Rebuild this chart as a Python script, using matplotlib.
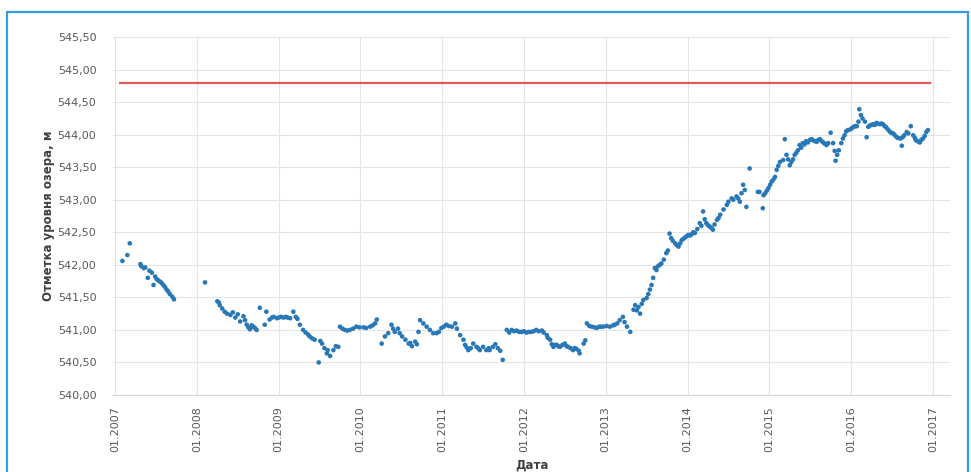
import numpy as np
import matplotlib
matplotlib.use('Agg')
import matplotlib.pyplot as plt
from matplotlib.patches import Rectangle
from matplotlib.ticker import FuncFormatter

# lake level observations: decimal year, elevation (m)
years = [
    2007.09, 2007.15, 2007.18, 2007.31, 2007.32, 2007.35, 2007.37, 2007.40, 2007.42, 2007.45,
    2007.47, 2007.49, 2007.51, 2007.53, 2007.55, 2007.57, 2007.59, 2007.61, 2007.63, 2007.65,
    2007.67, 2007.70, 2007.72,
    2008.10, 2008.25, 2008.27, 2008.28, 2008.31, 2008.34, 2008.37, 2008.41, 2008.44, 2008.47,
    2008.50, 2008.53, 2008.57, 2008.59, 2008.61, 2008.63, 2008.65, 2008.67, 2008.69, 2008.71,
    2008.73, 2008.77, 2008.83, 2008.85, 2008.89, 2008.92, 2008.94, 2008.98, 2009.00, 2009.03,
    2009.06, 2009.09, 2009.11, 2009.14, 2009.18, 2009.21, 2009.23, 2009.26, 2009.30, 2009.33,
    2009.36, 2009.38, 2009.41, 2009.44, 2009.49, 2009.51, 2009.53, 2009.56, 2009.59, 2009.60,
    2009.63, 2009.67, 2009.70, 2009.73,
    2009.75, 2009.78, 2009.81, 2009.84, 2009.87, 2009.91, 2009.95, 2009.99, 2010.04, 2010.07,
    2010.12, 2010.15, 2010.18, 2010.20, 2010.26, 2010.30, 2010.34, 2010.38, 2010.40, 2010.42,
    2010.46, 2010.48, 2010.51, 2010.55, 2010.59, 2010.61, 2010.63, 2010.67, 2010.69, 2010.71,
    2010.73, 2010.77, 2010.81, 2010.85, 2010.89, 2010.93, 2010.96, 2010.99, 2011.02, 2011.05,
    2011.08, 2011.12, 2011.16, 2011.18, 2011.22, 2011.26, 2011.28, 2011.30, 2011.32, 2011.35,
    2011.38, 2011.42, 2011.44, 2011.46, 2011.50, 2011.54, 2011.57, 2011.58, 2011.62, 2011.65,
    2011.68, 2011.71, 2011.74,
    2011.79, 2011.82, 2011.85, 2011.88, 2011.91, 2011.94, 2011.97, 2012.00, 2012.03, 2012.06,
    2012.09, 2012.12, 2012.15, 2012.18, 2012.22, 2012.24, 2012.28, 2012.29, 2012.32, 2012.34,
    2012.36, 2012.38, 2012.40, 2012.42, 2012.44, 2012.47, 2012.50, 2012.52, 2012.54, 2012.57,
    2012.60, 2012.62, 2012.64, 2012.67, 2012.68, 2012.73, 2012.75,
    2012.77, 2012.80, 2012.83, 2012.86, 2012.89, 2012.92, 2012.94, 2012.97, 2013.01, 2013.05,
    2013.09, 2013.11, 2013.14, 2013.17, 2013.21, 2013.23, 2013.26, 2013.30, 2013.34, 2013.36,
    2013.38, 2013.40, 2013.42, 2013.44, 2013.46, 2013.50, 2013.52, 2013.54, 2013.56, 2013.58,
    2013.60, 2013.62, 2013.64, 2013.66, 2013.68, 2013.71, 2013.74, 2013.76, 2013.78, 2013.80,
    2013.82, 2013.85, 2013.87, 2013.89, 2013.91, 2013.93, 2013.95, 2013.97, 2013.99, 2014.01,
    2014.03, 2014.05, 2014.07, 2014.09, 2014.12, 2014.15, 2014.17, 2014.19, 2014.21, 2014.23,
    2014.25, 2014.27, 2014.29, 2014.31, 2014.33, 2014.36, 2014.38, 2014.40, 2014.44, 2014.48,
    2014.50, 2014.54, 2014.56, 2014.60, 2014.62, 2014.64, 2014.66, 2014.68, 2014.70, 2014.72,
    2014.76, 2014.86, 2014.88, 2014.92, 2014.93, 2014.95, 2014.97, 2014.99, 2015.01, 2015.03,
    2015.05, 2015.07, 2015.09, 2015.11, 2015.13, 2015.17, 2015.19, 2015.21, 2015.23, 2015.25,
    2015.27, 2015.29, 2015.31, 2015.33, 2015.35, 2015.37, 2015.39, 2015.41, 2015.43, 2015.45,
    2015.47, 2015.50, 2015.52, 2015.54, 2015.56, 2015.58, 2015.60, 2015.62, 2015.64, 2015.66,
    2015.68, 2015.70, 2015.72, 2015.75, 2015.78, 2015.80, 2015.81, 2015.83, 2015.85, 2015.88,
    2015.90, 2015.92, 2015.94, 2015.96, 2015.99, 2016.01, 2016.03, 2016.05, 2016.07, 2016.09,
    2016.10, 2016.12, 2016.14, 2016.17, 2016.19, 2016.21, 2016.23, 2016.25, 2016.27, 2016.29,
    2016.31, 2016.33, 2016.35, 2016.37, 2016.39, 2016.41, 2016.43, 2016.45, 2016.47, 2016.49,
    2016.51, 2016.53, 2016.55, 2016.57, 2016.60, 2016.62, 2016.63, 2016.65, 2016.68, 2016.70,
    2016.73, 2016.76, 2016.78, 2016.79, 2016.81, 2016.84, 2016.86, 2016.88, 2016.90, 2016.92,
    2016.94,
]
levels = [
    542.06, 542.15, 542.33, 542.01, 541.98, 541.95, 541.96, 541.80, 541.91, 541.88,
    541.69, 541.82, 541.78, 541.76, 541.74, 541.72, 541.69, 541.66, 541.62, 541.59,
    541.55, 541.51, 541.47,
    541.73, 541.44, 541.42, 541.38, 541.33, 541.28, 541.25, 541.23, 541.27, 541.19,
    541.24, 541.13, 541.21, 541.15, 541.08, 541.04, 541.01, 541.07, 541.05, 541.03,
    541.00, 541.34, 541.08, 541.28, 541.16, 541.19, 541.20, 541.18, 541.19, 541.20,
    541.19, 541.20, 541.19, 541.18, 541.28, 541.20, 541.17, 541.08, 541.00, 540.96,
    540.93, 540.90, 540.87, 540.85, 540.50, 540.83, 540.79, 540.72, 540.64, 540.69,
    540.60, 540.69, 540.75, 540.74,
    541.05, 541.02, 541.00, 540.99, 541.00, 541.02, 541.05, 541.04, 541.04, 541.03,
    541.05, 541.07, 541.10, 541.16, 540.79, 540.90, 540.95, 541.08, 541.02, 540.97,
    541.02, 540.95, 540.90, 540.85, 540.79, 540.80, 540.75, 540.82, 540.78, 540.97,
    541.15, 541.10, 541.05, 541.00, 540.95, 540.95, 540.97, 541.03, 541.05, 541.08,
    541.06, 541.05, 541.10, 541.02, 540.92, 540.85, 540.77, 540.73, 540.69, 540.72,
    540.79, 540.74, 540.72, 540.69, 540.74, 540.69, 540.72, 540.69, 540.74, 540.78,
    540.72, 540.68, 540.54,
    541.00, 540.96, 541.00, 540.98, 540.99, 540.97, 540.97, 540.98, 540.96, 540.97,
    540.97, 540.98, 541.00, 540.98, 540.99, 540.96, 540.92, 540.88, 540.85, 540.78,
    540.74, 540.77, 540.77, 540.75, 540.74, 540.77, 540.79, 540.75, 540.74, 540.72,
    540.69, 540.72, 540.71, 540.68, 540.64, 540.79, 540.84,
    541.10, 541.06, 541.05, 541.04, 541.03, 541.05, 541.05, 541.05, 541.06, 541.05,
    541.07, 541.08, 541.10, 541.15, 541.20, 541.12, 541.05, 540.97, 541.31, 541.38,
    541.30, 541.35, 541.25, 541.40, 541.46, 541.49, 541.55, 541.62, 541.69, 541.80,
    541.95, 541.92, 541.98, 542.00, 542.02, 542.08, 542.18, 542.22, 542.48, 542.41,
    542.37, 542.33, 542.30, 542.28, 542.33, 542.38, 542.40, 542.42, 542.44, 542.46,
    542.45, 542.47, 542.50, 542.49, 542.55, 542.64, 542.60, 542.82, 542.70, 542.64,
    542.61, 542.59, 542.57, 542.54, 542.62, 542.69, 542.72, 542.77, 542.85, 542.92,
    542.97, 543.02, 543.00, 543.05, 543.02, 542.97, 543.10, 543.23, 543.15, 542.89,
    543.48, 543.12, 543.12, 542.87, 543.07, 543.10, 543.14, 543.18, 543.23, 543.28,
    543.31, 543.35, 543.46, 543.52, 543.58, 543.61, 543.93, 543.69, 543.62, 543.53,
    543.58, 543.62, 543.69, 543.72, 543.76, 543.84, 543.80, 543.87, 543.85, 543.90,
    543.88, 543.92, 543.93, 543.91, 543.90, 543.89, 543.92, 543.93, 543.90, 543.88,
    543.86, 543.84, 543.87, 544.03, 543.87, 543.75, 543.60, 543.69, 543.76, 543.87,
    543.94, 543.99, 544.05, 544.07, 544.08, 544.10, 544.12, 544.13, 544.13, 544.20,
    544.39, 544.30, 544.25, 544.20, 543.96, 544.12, 544.14, 544.15, 544.16, 544.15,
    544.18, 544.17, 544.16, 544.17, 544.16, 544.13, 544.11, 544.08, 544.05, 544.03,
    544.02, 544.00, 543.97, 543.95, 543.94, 543.83, 543.96, 543.99, 544.04, 544.02,
    544.13, 543.99, 543.95, 543.92, 543.90, 543.88, 543.92, 543.94, 543.98, 544.04,
    544.07,
]

# critical level line
crit_level = 544.80
crit_start, crit_end = 2007.06, 2016.97

tick_years = list(range(2007, 2018))
tick_labels = ['01.%d' % y for y in tick_years]

fig = plt.figure(figsize=(9.71, 4.72), dpi=100)
ax = fig.add_axes([0.1164, 0.1631, 0.8620, 0.7585])

ax.plot([crit_start, crit_end], [crit_level, crit_level], color='#e25a5c', lw=1.6, zorder=3)
ax.scatter(years, levels, s=11, color='#2878b8', edgecolors='none', zorder=4)

ax.set_xlim(2006.975, 2017.21)
ax.set_ylim(540.0, 545.5)
ax.set_yticks(np.arange(540.0, 545.51, 0.5))
ax.yaxis.set_major_formatter(FuncFormatter(lambda v, p: ('%.2f' % v).replace('.', ',')))
ax.set_xticks(tick_years)
ax.set_xticklabels(tick_labels, rotation=90)

ax.grid(True, color='#e4e4e4', lw=0.8)
ax.set_axisbelow(True)
for side in ['top', 'right', 'left']:
    ax.spines[side].set_visible(False)
ax.spines['bottom'].set_color('#d6d6d6')
ax.tick_params(length=0, labelsize=8, labelcolor='#595959')
ax.tick_params(axis='y', pad=12)
ax.tick_params(axis='x', pad=8)

ax.set_xlabel('Дата', fontsize=8.5, fontweight='bold', color='#404040', labelpad=5)
ax.set_ylabel('Отметка уровня озера, м', fontsize=8.5, fontweight='bold', color='#404040', labelpad=2)

# blue frame round the figure
fig.patches.append(Rectangle((7 / 971, -0.05), 961 / 971, 1 - 12 / 472 + 0.05,
                             transform=fig.transFigure, fill=False,
                             edgecolor='#3b9ad9', lw=1.6))

fig.savefig('out.png', dpi=100)
